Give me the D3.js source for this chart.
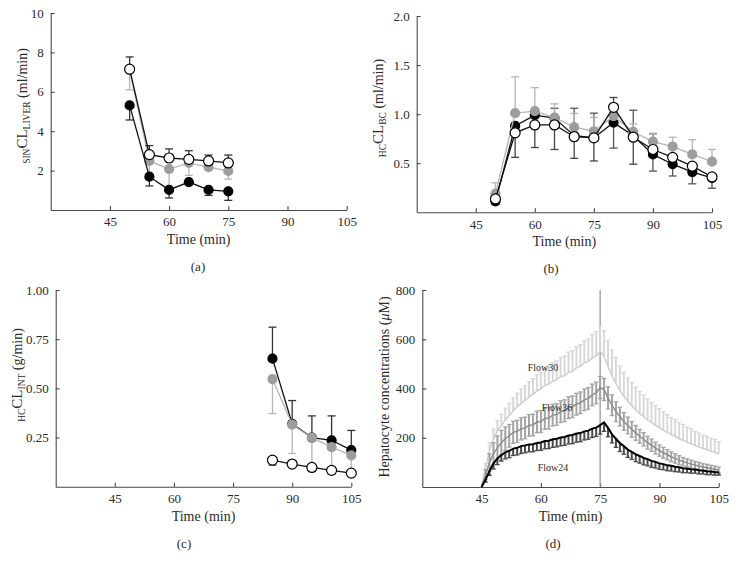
<!DOCTYPE html>
<html><head><meta charset="utf-8">
<script src="https://cdn.jsdelivr.net/npm/d3@7"></script>
<style>
body{margin:0;background:#fff}
svg{display:block}
text{font-family:"Liberation Serif","Times New Roman",serif;fill:#2a2a2a}
</style>
</head><body>
<svg id="c" width="736" height="568"></svg>
<script>
// ---------- shared ----------
const xTicks = [45, 60, 75, 90, 105];

// ---------- panel (a) ----------
const timesA = [50, 55, 60, 65, 70, 75];
const aOpen = [7.15, 2.81, 2.64, 2.57, 2.49, 2.39];
const aOpenUp = [0.62, 0.46, 0.46, 0.44, 0.30, 0.40];
const aBlack = [5.31, 1.69, 1.02, 1.42, 1.02, 0.95];
const aBlackDown = [0.74, 0.47, 0.41, 0, 0.28, 0.46];
const aGray = [7.1, 2.49, 2.08, 2.39, 2.18, 1.98];
const aGrayDown = [1.0, 0.8, 1.0, 0.63, 0.15, 0.41];
const aYTicks = [2, 4, 6, 8, 10];

// ---------- panel (b) ----------
const timesB = [50, 55, 60, 65, 70, 75, 80, 85, 90, 95, 100, 105];
const bGray = [0.19, 1.01, 1.03, 0.965, 0.867, 0.826, 0.98, 0.82, 0.72, 0.67, 0.59, 0.516];
const bGrayUp = [0.11, 0.37, 0.24, 0.14, 0.14, 0.14, 0, 0.08, 0.086, 0.095, 0.15, 0.125];
const bBlack = [0.11, 0.88, 0.99, 0.96, 0.78, 0.76, 0.914, 0.78, 0.59, 0.49, 0.41, 0.35];
const bBlackUp = [0, 0, 0, 0.10, 0.28, 0.25, 0, 0.26, 0.21, 0, 0, 0];
const bBlackDown = [0.03, 0, 0, 0, 0, 0, 0.26, 0, 0.17, 0.12, 0.12, 0.105];
const bOpen = [0.136, 0.81, 0.89, 0.89, 0.77, 0.758, 1.07, 0.765, 0.64, 0.56, 0.47, 0.36];
const bOpenUp = [0, 0, 0, 0, 0, 0, 0.10, 0, 0, 0, 0, 0];
const bOpenDown = [0, 0.25, 0.23, 0.25, 0.22, 0.235, 0, 0.275, 0, 0, 0, 0];
const bYTicks = [0.5, 1.0, 1.5, 2.0];

// ---------- panel (c) ----------
const timesC = [85, 90, 95, 100, 105];
const cBlack = [0.651, 0.32, 0.25, 0.236, 0.186];
const cBlackUp = [0.16, 0.118, 0.11, 0.124, 0.10];
const cGray = [0.547, 0.316, 0.248, 0.201, 0.159];
const cGrayDown = [0.175, 0.147, 0.17, 0.10, 0.09];
const cOpen = [0.135, 0.115, 0.098, 0.083, 0.069];
const cOpenDown = [0.025, 0.01, 0.005, 0.017, 0.005];
const cYTicks = [0.25, 0.50, 0.75, 1.00];

// ---------- panel (d) ----------
const timesD = [45,46,47,48,49,50,51,52,53,54,55,56,57,58,59,60,61,62,63,64,65,66,67,68,69,70,
  71,72,73,74,75,76,77,78,79,80,81,82,83,84,85,86,87,88,89,90,91,92,93,94,95,96,97,98,99,100,
  101,102,103,104,105];
const flow30 = [0,80,150,195,228,250,272,290,310,326,340,352,366,376,390,398,412,418,430,436,448,452,
  466,470,484,490,504,510,524,532,552,530,490,452,420,392,368,348,330,314,298,286,272,262,250,240,
  230,222,212,206,196,190,181,176,168,163,156,152,145,141,134];
const flow30Err = [0,15,30,40,42,45,48,50,52,55,58,60,62,64,66,68,70,72,74,76,78,80,82,84,86,88,
  90,92,95,98,100,105,105,105,105,100,98,96,94,92,90,88,85,82,80,78,75,72,70,68,66,64,62,60,58,56,
  55,54,53,52,50];
const flow36 = [0,50,100,135,160,180,196,208,222,226,236,240,250,252,264,266,278,280,292,294,306,
  310,322,326,336,342,354,360,374,382,404,396,362,332,306,286,266,250,234,220,206,194,180,170,158,
  148,139,131,123,116,109,103,98,93,89,85,81,78,75,72,69];
const flow36Err = [0,20,35,45,48,50,48,46,45,45,45,44,44,44,44,44,44,44,44,44,44,44,44,44,44,44,
  44,44,44,44,45,45,45,42,40,38,36,34,32,30,28,27,26,25,24,23,22,21,20,19,18,17,16,16,15,15,14,
  14,13,13,12];
const flow24 = [0,30,65,95,116,130,141,147,156,159,166,169,173,174,179,181,187,188,194,196,201,
  203,209,211,217,219,226,229,237,241,251,262,240,214,196,178,166,152,143,133,126,118,113,106,102,
  96,93,88,86,82,80,76,75,72,71,68,67,64,63,61,60];
const flow24Err = [0,10,18,22,25,25,27,28,28,29,30,30,30,31,31,32,32,32,33,33,34,34,34,35,35,35,
  35,35,36,36,36,36,36,35,35,34,33,32,31,30,29,28,27,26,25,24,23,22,21,20,19,18,17,16,15,15,14,
  14,13,13,12];
const dYTicks = [200, 400, 600, 800];
const flowLabels = ["Flow30", "Flow36", "Flow24"];

// ---------- drawing ----------
const svg = d3.select('#c');
const AX = '#4a4a4a';

function makePanel(o) {
  const x = d3.scaleLinear().domain([30, 105]).range([o.x0, o.x1]);
  const y = d3.scaleLinear().domain(o.yDomain).range([o.yBot, o.yTop]);
  const g = svg.append('g');
  const xa = g.append('g').attr('transform', `translate(0,${o.yBot})`)
    .call(d3.axisBottom(x).tickValues(xTicks).tickSizeInner(-4).tickSizeOuter(0).tickPadding(7));
  const ya = g.append('g').attr('transform', `translate(${o.x0},0)`)
    .call(d3.axisLeft(y).tickValues(o.yTicks).tickFormat(o.fmt).tickSizeInner(-4).tickSizeOuter(0).tickPadding(7));
  [xa, ya].forEach(a => {
    a.select('.domain').attr('stroke', AX).attr('stroke-width', 1.1);
    a.selectAll('.tick line').attr('stroke', AX).attr('stroke-width', 1.1);
    a.selectAll('text').attr('font-family', '"Liberation Serif","Times New Roman",serif')
      .attr('font-size', 13).attr('fill', '#2a2a2a');
  });
  g.append('text').attr('x', (o.x0 + o.x1) / 2).attr('y', o.yBot + 34)
    .attr('text-anchor', 'middle').attr('font-size', 14).text('Time (min)');
  g.append('text').attr('x', o.panelX).attr('y', o.yBot + 61)
    .attr('text-anchor', 'middle').attr('font-size', 13).text(o.panelLabel);
  const t = g.append('text').attr('transform', `translate(${o.titleX},${o.titleY}) rotate(-90)`)
    .attr('text-anchor', 'middle');
  o.title.forEach(p => {
    const s = t.append('tspan').attr('font-size', p[1]).attr('dy', p[2]).text(p[0]);
    if (p[3]) s.attr('font-style', 'italic');
  });
  return { g, x, y };
}

function errBars(P, ts, m, up, down, color, cap, sw) {
  const segs = [];
  ts.forEach((t, i) => {
    if (up && up[i] > 0) segs.push([t, m[i], m[i] + up[i]]);
    if (down && down[i] > 0) segs.push([t, m[i], m[i] - down[i]]);
  });
  const g = P.g.append('g');
  g.selectAll('line.v').data(segs).join('line').attr('class', 'v')
    .attr('x1', d => P.x(d[0])).attr('x2', d => P.x(d[0]))
    .attr('y1', d => P.y(d[1])).attr('y2', d => P.y(d[2]))
    .attr('stroke', color).attr('stroke-width', sw);
  g.selectAll('line.c').data(segs).join('line').attr('class', 'c')
    .attr('x1', d => P.x(d[0]) - cap / 2).attr('x2', d => P.x(d[0]) + cap / 2)
    .attr('y1', d => P.y(d[2])).attr('y2', d => P.y(d[2]))
    .attr('stroke', color).attr('stroke-width', Math.min(sw, 1.3));
}

function series(P, ts, m, lineColor, fill, stroke, r, lw) {
  const pts = ts.map((t, i) => [t, m[i]]);
  P.g.append('path').datum(pts)
    .attr('d', d3.line().x(d => P.x(d[0])).y(d => P.y(d[1])))
    .attr('fill', 'none').attr('stroke', lineColor).attr('stroke-width', lw);
  if (r > 0) {
    P.g.append('g').selectAll('circle').data(pts).join('circle')
      .attr('cx', d => P.x(d[0])).attr('cy', d => P.y(d[1])).attr('r', r)
      .attr('fill', fill).attr('stroke', stroke).attr('stroke-width', 1.2);
  }
}

const GRAYC = '#9d9d9d', GRAYL = '#b5b5b5', DARK = '#333';

// (a)
const A = makePanel({ x0: 50.7, x1: 346.7, yBot: 210, yTop: 13, yDomain: [0, 10], yTicks: aYTicks,
  fmt: d3.format('d'), panelX: 198, panelLabel: '(a)', titleX: 27, titleY: 106,
  title: [['SIN', 9.5, 3], ['CL', 15, -3], ['LIVER', 9.5, 3], [' (ml/min)', 14, -3]] });
errBars(A, timesA, aGray, null, aGrayDown, GRAYL, 8, 1.3);
series(A, timesA, aGray, GRAYL, GRAYC, GRAYC, 4.5, 1.3);
errBars(A, timesA, aBlack, null, aBlackDown, DARK, 8, 1.3);
series(A, timesA, aBlack, '#111', '#000', '#000', 4.5, 1.3);
errBars(A, timesA, aOpen, aOpenUp, null, DARK, 8, 1.3);
series(A, timesA, aOpen, '#111', '#fff', '#000', 5, 1.3);

// (b)
const B = makePanel({ x0: 416.7, x1: 712, yBot: 212.3, yTop: 16, yDomain: [0, 2], yTicks: bYTicks,
  fmt: d3.format('.1f'), panelX: 551, panelLabel: '(b)', titleX: 383, titleY: 108,
  title: [['HC', 9.5, 3], ['CL', 15, -3], ['BC', 9.5, 3], [' (ml/min)', 14, -3]] });
errBars(B, timesB, bBlack, bBlackUp, bBlackDown, '#555', 8, 1.3);
errBars(B, timesB, bOpen, bOpenUp, bOpenDown, '#444', 8, 1.3);
errBars(B, timesB, bGray, bGrayUp, null, GRAYL, 8, 1.3);
series(B, timesB, bBlack, '#111', '#000', '#000', 4.5, 1.3);
series(B, timesB, bGray, GRAYL, GRAYC, GRAYC, 4.5, 1.3);
series(B, timesB, bOpen, '#111', '#fff', '#000', 5, 1.3);

// (c)
const C = makePanel({ x0: 55.7, x1: 351.3, yBot: 486.7, yTop: 290, yDomain: [0, 1], yTicks: cYTicks,
  fmt: d3.format('.2f'), panelX: 184, panelLabel: '(c)', titleX: 22, titleY: 375,
  title: [['HC', 9.5, 3], ['CL', 15, -3], ['INT', 9.5, 3], [' (g/min)', 14, -3]] });
errBars(C, timesC, cBlack, cBlackUp, null, DARK, 8, 1.3);
series(C, timesC, cBlack, '#111', '#000', '#000', 4.5, 1.3);
errBars(C, timesC, cGray, null, cGrayDown, GRAYL, 8, 1.3);
series(C, timesC, cGray, GRAYL, GRAYC, GRAYC, 4.5, 1.3);
errBars(C, timesC, cOpen, null, cOpenDown, DARK, 8, 1.3);
series(C, timesC, cOpen, '#111', '#fff', '#000', 5, 1.3);

// (d)
const D = makePanel({ x0: 422.3, x1: 718.7, yBot: 487, yTop: 290, yDomain: [0, 800], yTicks: dYTicks,
  fmt: d3.format('d'), panelX: 553, panelLabel: '(d)', titleX: 389, titleY: 387,
  title: [['Hepatocyte concentrations (', 14, 0], ['μ', 14, 0, true], ['M)', 14, 0]] });
D.g.append('line').attr('x1', D.x(75)).attr('x2', D.x(75)).attr('y1', D.y(800)).attr('y2', D.y(0))
  .attr('stroke', '#9a9a9a').attr('stroke-width', 1.3);
errBars(D, timesD, flow30, flow30Err, null, '#d8d8d8', 4.5, 2);
series(D, timesD, flow30, '#cfcfcf', 'none', 'none', 0, 1.5);
errBars(D, timesD, flow36, flow36Err, flow36Err, '#a4a4a4', 4.5, 2);
series(D, timesD, flow36, '#8e8e8e', 'none', 'none', 0, 1.5);
errBars(D, timesD, flow24, null, flow24Err, '#4a4a4a', 4.5, 2);
series(D, timesD, flow24, '#000', 'none', 'none', 0, 2);
D.g.append('text').attr('x', 543).attr('y', 371).attr('text-anchor', 'middle').attr('font-size', 10).attr('fill', '#333').text(flowLabels[0]);
D.g.append('text').attr('x', 557).attr('y', 411).attr('text-anchor', 'middle').attr('font-size', 10).attr('fill', '#333').text(flowLabels[1]);
D.g.append('text').attr('x', 553).attr('y', 471).attr('text-anchor', 'middle').attr('font-size', 10).attr('fill', '#333').text(flowLabels[2]);
</script>
</body></html>
